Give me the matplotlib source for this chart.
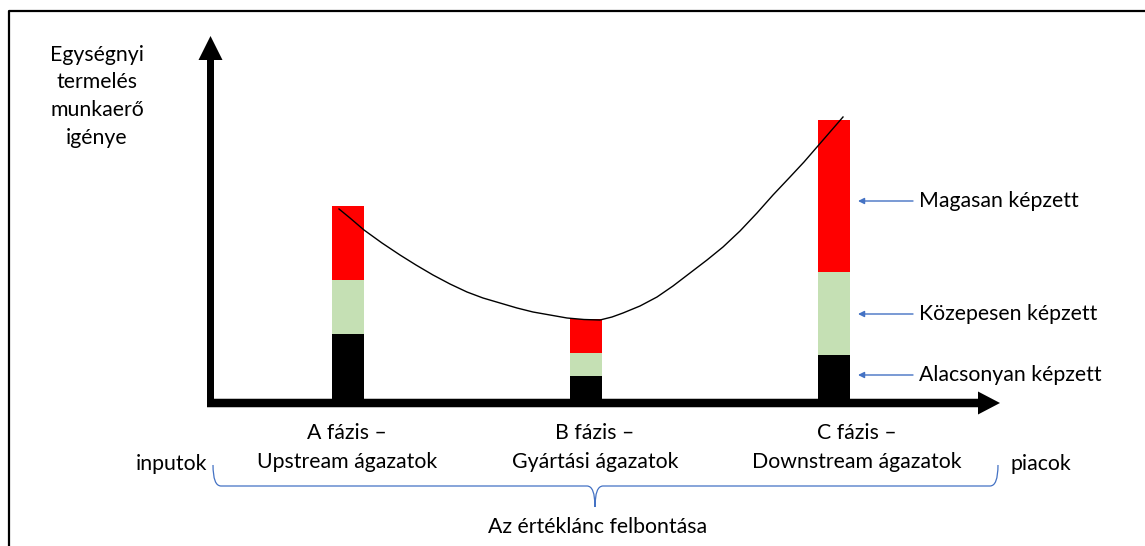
import matplotlib

matplotlib.use("Agg")
import matplotlib.pyplot as plt
from matplotlib.patches import FancyArrow, PathPatch
from matplotlib.path import Path

plt.rcParams["font.family"] = ["Lato", "DejaVu Sans"]

# stacked segment heights (value units, measured up from the baseline)
phase_lines = [
    ("A fázis –", "Upstream ágazatok"),
    ("B fázis –", "Gyártási ágazatok"),
    ("C fázis –", "Downstream ágazatok"),
]
low_skill = [66, 24, 45]     # black
mid_skill = [54, 23, 83]     # light green
high_skill = [74, 34, 152]   # red
skill_labels = ["Magasan képzett", "Közepesen képzett", "Alacsonyan képzett"]

# trend curve drawn over the bars (x, height above baseline)
curve_x = [339, 350, 364, 382, 400, 416, 433, 450, 467, 483, 500, 517, 533,
           550, 567, 584, 600, 612, 623, 640, 657, 673, 690, 707, 723, 740,
           757, 773, 790, 804, 817, 830, 843]
curve_h = [191, 182, 170, 157, 145, 135, 125, 116, 108, 102, 97, 92, 88,
           85, 82, 80.5, 80, 83, 87, 94, 103, 114, 127, 140, 153, 169,
           187, 205, 223, 238, 253, 268, 283]

W, H = 1145, 546
BASE = 400                     # baseline, pixel row
BAR_X = [348, 586, 834]
BAR_W = 32
LABEL_X = [347, 595, 857]
FS = 15.3
BLUE = "#4472C4"

fig = plt.figure(figsize=(W / 100, H / 100), dpi=100)
ax = fig.add_axes([0, 0, 1, 1])
ax.set_xlim(0, W)
ax.set_ylim(H, 0)
ax.axis("off")

# frame (left + top edge only, rest is cropped)
ax.plot([8.5, 8.5, W], [H, 11, 11], color="black", lw=1.6, solid_capstyle="butt")

# stacked bars
bottom = [BASE - v for v in low_skill]
ax.bar(BAR_X, low_skill, bottom=bottom, width=BAR_W, color="black", zorder=2)
bottom = [b - v for b, v in zip(bottom, mid_skill)]
ax.bar(BAR_X, mid_skill, bottom=bottom, width=BAR_W, color="#c5e0b4", zorder=2)
bottom = [b - v for b, v in zip(bottom, high_skill)]
ax.bar(BAR_X, high_skill, bottom=bottom, width=BAR_W, color="#ff0000", zorder=2)

# curve
ax.plot(curve_x, [BASE - h for h in curve_h], color="black", lw=1.0,
        solid_joinstyle="round", zorder=3)

# axes arrows
ax.add_patch(FancyArrow(210.5, 407, 0, -371, width=7, head_width=24,
                        head_length=24, length_includes_head=True,
                        color="black", lw=0, zorder=4))
ax.add_patch(FancyArrow(207, 403, 793, 0, width=8.5, head_width=23,
                        head_length=22, length_includes_head=True,
                        color="black", lw=0, zorder=4))

# y axis title
for i, t in enumerate(["Egységnyi", "termelés", "munkaerő", "igénye"]):
    ax.text(97, 55 + i * 27.5, t, ha="center", va="center", fontsize=FS)

# skill labels with blue pointer arrows
label_y = [201, 314, 375]
for t, y in zip(skill_labels, label_y):
    ax.annotate("", xy=(858, y), xytext=(913, y),
                arrowprops=dict(arrowstyle="-|>", color=BLUE, lw=1.0,
                                mutation_scale=9, shrinkA=0, shrinkB=0))
    ax.text(919, y, t, ha="left", va="center", fontsize=FS)

# phase labels
for x, (l1, l2) in zip(LABEL_X, phase_lines):
    ax.text(x, 433, l1, ha="center", va="center", fontsize=FS)
    ax.text(x, 462, l2, ha="center", va="center", fontsize=FS)

ax.text(207, 464, "inputok", ha="right", va="center", fontsize=FS)
ax.text(1010, 464, "piacok", ha="left", va="center", fontsize=FS)

# curly brace under the value chain
L, R, M = 213, 998, 595
top, mid, tip = 465, 486, 507
verts = [(L, top), (L, mid), (L + 8, mid),
         (M - 8, mid), (M, mid), (M, tip),
         (M, mid), (M + 8, mid),
         (R - 8, mid), (R, mid), (R, top)]
codes = [Path.MOVETO, Path.CURVE3, Path.CURVE3,
         Path.LINETO, Path.CURVE3, Path.CURVE3,
         Path.CURVE3, Path.CURVE3,
         Path.LINETO, Path.CURVE3, Path.CURVE3]
ax.add_patch(PathPatch(Path(verts, codes), fill=False, edgecolor=BLUE, lw=0.9))

ax.text(598, 527, "Az értéklánc felbontása", ha="center", va="center", fontsize=FS)

fig.savefig("out.png", dpi=100)
